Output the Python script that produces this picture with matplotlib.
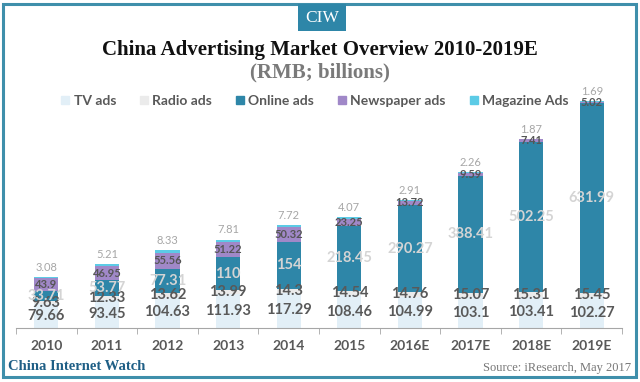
import matplotlib.pyplot as plt
import numpy as np
from matplotlib.patches import Rectangle
from matplotlib.lines import Line2D

years = ["2010", "2011", "2012", "2013", "2014", "2015", "2016E", "2017E", "2018E", "2019E"]
tv = [79.66, 93.45, 104.63, 111.93, 117.29, 108.46, 104.99, 103.1, 103.41, 102.27]
radio = [9.63, 12.33, 13.62, 13.99, 14.3, 14.54, 14.76, 15.07, 15.31, 15.45]
online = [33.71, 53.77, 77.31, 110, 154, 218.45, 290.27, 388.41, 502.25, 631.99]
newspaper = [43.9, 46.95, 55.56, 51.22, 50.32, 23.25, 13.72, 9.59, 7.41, 5.02]
magazine = [3.08, 5.21, 8.33, 7.81, 7.72, 4.07, 2.91, 2.26, 1.87, 1.69]

series = [("TV ads", tv, "#e2eff7"),
          ("Radio ads", radio, "#ebebeb"),
          ("Online ads", online, "#2e86a8"),
          ("Newspaper ads", newspaper, "#a088c8"),
          ("Magazine Ads", magazine, "#5ccbe6")]

sans = ["Lato", "DejaVu Sans"]
serif = ["Liberation Serif", "DejaVu Serif"]

fig = plt.figure(figsize=(6.4, 3.82), dpi=100)
ax = fig.add_axes([16 / 640, 54 / 382, 606 / 640, 240 / 382])

x = np.arange(len(years))
bottom = np.zeros(len(years))
for name, vals, col in series:
    v = np.array(vals, dtype=float)
    ax.bar(x, v, 0.4, bottom=bottom, color=col, label=name)
    for i in range(len(years)):
        mid = bottom[i] + v[i] / 2
        txt = f"{vals[i]:g}"
        if name == "TV ads" or name == "Radio ads":
            ax.text(x[i], mid, txt, ha="center", va="center", fontsize=10.5,
                    fontweight="bold", color="#595959", family=sans)
        elif name == "Online ads":
            ax.text(x[i], mid, txt, ha="center", va="center", fontsize=10.5,
                    fontweight="bold", color="#d4d4d4", family=sans)
        elif name == "Newspaper ads":
            ax.text(x[i], mid, txt, ha="center", va="center", fontsize=8,
                    fontweight="bold", color="#555555", family=sans)
        else:
            # magazine values sit just above the top of the stack
            ax.text(x[i], bottom[i] + v[i] + 14, txt, ha="center", va="bottom",
                    fontsize=8, color="#a6a6a6", family=sans)
    bottom += v

ax.set_xlim(-0.5, 9.5)
ax.set_ylim(0, 800)
for s in ["top", "right", "left"]:
    ax.spines[s].set_visible(False)
ax.spines["bottom"].set_color("#a6a6a6")
ax.set_yticks([])
ax.set_xticks(x)
ax.set_xticklabels(years, fontsize=10, fontweight="bold", color="#595959", family=sans)
ax.tick_params(axis="x", which="major", length=0, pad=9)
ax.set_xticks(np.arange(-0.5, 10, 1), minor=True)
ax.tick_params(axis="x", which="minor", length=4, color="#a6a6a6")

handles = [Line2D([], [], marker="s", ls="", markersize=6, color=c) for _, _, c in series]
fig.legend(handles, [n for n, _, _ in series], loc="center", ncol=5,
           bbox_to_anchor=(0.49, 1 - 101 / 382), frameon=False,
           prop={"family": sans, "size": 10, "weight": "bold"}, labelcolor="#595959",
           handletextpad=0.1, columnspacing=1.5, handlelength=1.0)

fig.text(0.5, 1 - 50 / 382, "China Advertising Market Overview 2010-2019E", ha="center",
         va="center", fontsize=15, fontweight="bold", family=serif, color="#111111")
fig.text(0.5, 1 - 72 / 382, "(RMB; billions)", ha="center", va="center", fontsize=15,
         fontweight="bold", family=serif, color="#7a7a7a")

# frame and CIW badge
fig.patches.append(Rectangle((3 / 640, 5 / 382), 633 / 640, 373 / 382, transform=fig.transFigure,
                             fill=False, edgecolor="#3f8fab", lw=2.2))
fig.patches.append(Rectangle((298 / 640, 1 - 31 / 382), 48 / 640, 27 / 382, transform=fig.transFigure,
                             facecolor="#2e86a8", edgecolor="none"))
fig.text(322 / 640, 1 - 18 / 382, "CIW", ha="center", va="center", fontsize=12.5,
         family=serif, color="white")

fig.text(8 / 640, 1 - 367 / 382, "China Internet Watch", ha="left", va="center",
         fontsize=10.5, fontweight="bold", family=serif, color="#1f5f86")
fig.text(631 / 640, 1 - 368 / 382, "Source: iResearch, May 2017", ha="right", va="center",
         fontsize=9, family=serif, color="#777777")

fig.savefig("out.png", dpi=100)
